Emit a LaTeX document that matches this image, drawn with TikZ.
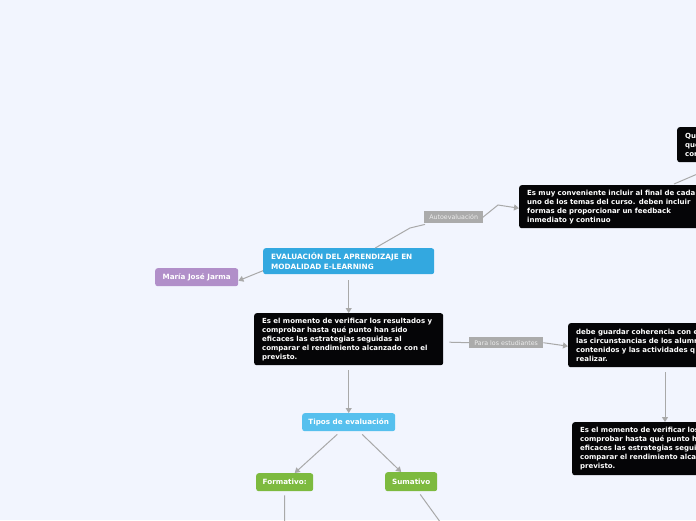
\documentclass[tikz,border=0pt]{standalone}
\usepackage{fontspec}
\setmainfont{DejaVu Sans}
\usetikzlibrary{arrows.meta}
\definecolor{bgc}{HTML}{F2F5FE}
\definecolor{mainblue}{HTML}{33A8E0}
\definecolor{lightblue}{HTML}{56C0EE}
\definecolor{purp}{HTML}{B18FC9}
\definecolor{blk}{HTML}{050507}
\definecolor{grn}{HTML}{7DBA3F}
\definecolor{labgray}{HTML}{ABABAB}
\definecolor{labtext}{HTML}{EDEDED}
\definecolor{linec}{HTML}{A9A9A9}
\tikzset{
  box/.style={anchor=north west, rounded corners=2.5pt, text=white, inner xsep=8pt, inner ysep=0pt,
    font=\fontsize{7}{9}\selectfont\bfseries, align=left},
  titlebox/.style={box, font=\fontsize{7.3}{9.5}\selectfont\bfseries},
  smallbox/.style={anchor=north west, rounded corners=2.5pt, text=white, inner sep=0pt,
    font=\fontsize{7.2}{8}\selectfont\bfseries, align=center},
  lab/.style={anchor=north west, fill=labgray, text=labtext, inner sep=0pt,
    font=\fontsize{6.3}{8}\selectfont, align=center},
  conn/.style={draw=linec, line width=1pt},
  arr/.style={conn, -{Triangle[length=5pt,width=6pt]}}
}
\begin{document}
\begin{tikzpicture}[x=1pt,y=-1pt]
\useasboundingbox (0,0) rectangle (696,520);
\fill[bgc] (0,0) rectangle (696,520);
\clip (0,0) rectangle (696,520);

% nodes
\node[titlebox, fill=mainblue, minimum width=171pt, minimum height=26pt, text width=155pt] (main) at (263,248)
  {EVALUACIÓN DEL APRENDIZAJE EN\\MODALIDAD E-LEARNING};
\node[smallbox, fill=purp, minimum width=83pt, minimum height=18pt] (maria) at (155,268) {María José Jarma};
\node[box, fill=blk, minimum width=230pt, minimum height=43pt, text width=214pt] (box3) at (519,185)
  {Es muy conveniente incluir al final de cada\\uno de los temas del curso. deben incluir\\formas de proporcionar un feedback\\inmediato y continuo};
\node[box, fill=blk, minimum width=80pt, minimum height=35pt, text width=64pt] (box4) at (677,127)
  {Qu\\que\\con};
\node[lab, minimum width=59pt, minimum height=12pt] (auto) at (424,211) {Autoevaluación};
\node[box, fill=blk, minimum width=189pt, minimum height=52pt, text width=173pt] (box6) at (254,313)
  {Es el momento de verificar los resultados y\\comprobar hasta qué punto han sido\\eficaces las estrategias seguidas al\\comparar el rendimiento alcanzado con el\\previsto.};
\node[lab, minimum width=74pt, minimum height=11pt] (para) at (469,337) {Para los estudiantes};
\node[box, fill=blk, minimum width=200pt, minimum height=44pt, text width=184pt] (box8) at (568,323)
  {debe guardar coherencia con e\\las circunstancias de los alumn\\contenidos y las actividades q\\realizar.};
\node[smallbox, fill=lightblue, minimum width=93pt, minimum height=18pt] (tipos) at (302,413) {Tipos de evaluación};
\node[smallbox, fill=grn, minimum width=57pt, minimum height=18pt] (form) at (256,473) {Formativo:};
\node[smallbox, fill=grn, minimum width=52pt, minimum height=19pt] (sum) at (385,472) {Sumativo};
\node[box, fill=blk, minimum width=200pt, minimum height=53pt, text width=184pt] (box12) at (572,422)
  {Es el momento de verificar los resultados y\\comprobar hasta qué punto han sido\\eficaces las estrategias seguidas al\\comparar el rendimiento alcanzado con el\\previsto.};

% coordinates
\coordinate (b1) at (410,228);
\coordinate (b2) at (498,205);
\coordinate (e4) at (730,160);
\coordinate (ef) at (284.5,530);
\coordinate (es) at (446,530);

% connectors
\draw[conn] ([xshift=26.5]main.north) -- (b1) -- ([xshift=1,yshift=-1]auto.south west);
\draw[arr] ([xshift=-3,yshift=-2]auto.east) -- (b2) -- ([yshift=-1.5]box3.west);
\draw[conn] ([xshift=155,yshift=1]box3.north west) -- (e4);
\draw[arr] ([yshift=-9.5]main.west) -- ([yshift=-3.5]maria.east);
\draw[arr, shorten <=6pt] (main.south) -- (box6.north);
\draw[conn] ([shift={(6,3)}]box6.east) -- (para.west);
\draw[arr] (para.east) -- ([yshift=-1]box8.west);
\draw[arr, shorten <=5pt] ([xshift=97]box8.south west) -- ([xshift=93]box12.north west);
\draw[arr, shorten <=5pt] (box6.south) -- (tipos.north);
\draw[arr] ([xshift=-11.5,yshift=-3]tipos.south) -- ([xshift=10]form.north);
\draw[arr] ([xshift=13.5,yshift=-3]tipos.south) -- ([xshift=-10]sum.north);
\draw[conn] ([yshift=-4]form.south) -- (ef);
\draw[conn] ([xshift=9,yshift=-3]sum.south) -- (es);
\end{tikzpicture}
\end{document}
